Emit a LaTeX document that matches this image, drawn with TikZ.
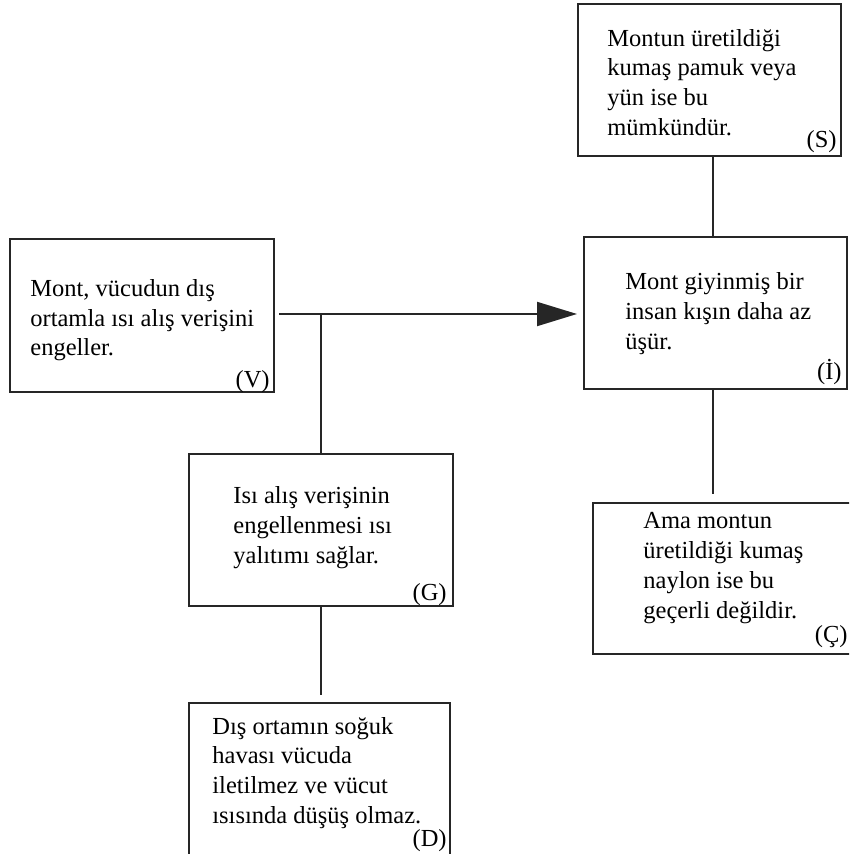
\documentclass[tikz,border=0pt]{standalone}
\usepackage{fontspec}
\setmainfont{Liberation Serif}
\usetikzlibrary{arrows.meta}

\tikzset{
  box/.style={draw=black!85, line width=1pt, inner sep=0pt, minimum width=131.5pt, minimum height=76pt},
  % multi-line texts are placed by the baseline of their last line
  txt/.style={inner sep=0pt, align=left, anchor=base west, font=\fontsize{12.25pt}{14.9pt}\selectfont},
  tag/.style={inner sep=0pt, anchor=base east, font=\fontsize{12.25pt}{14.9pt}\selectfont},
  link/.style={draw=black!85, line width=1pt},
  arr/.style={link, -{Triangle[length=20pt,width=12pt]}}
}

\begin{document}
\begin{tikzpicture}[x=0.5pt, y=-0.5pt]
  \useasboundingbox (0,0) rectangle (849,854);
  \clip (0,0) rectangle (849,854);

  % boxes
  \node[box] (S) at (709.5,80) {};
  \node[box, minimum width=132pt, minimum height=76.5pt] (V) at (142,315.5) {};
  \node[box] (I) at (715.5,313) {};
  \node[box, minimum width=132pt] (G) at (321,530) {};
  \node[box, minimum height=75.5pt] (C) at (724.5,578.5) {};
  \node[box, minimum width=130.5pt, minimum height=77pt] (D) at (319.5,780) {};

  % box texts
  \node[txt] (St) at (607,135.5) {Montun üretildiği\\kumaş pamuk veya\\yün ise bu\\mümkündür.};
  \node[tag] (Sl) at (837,148) {(S)};

  \node[txt] (Vt) at (30,356) {Mont, vücudun dış\\ortamla ısı alış verişini\\engeller.};
  \node[tag] (Vl) at (270,387) {(V)};

  \node[txt] (It) at (625,349.5) {Mont giyinmiş bir\\insan kışın daha az\\üşür.};
  \node[tag] (Il) at (842,380) {(İ)};

  \node[txt] (Gt) at (233,563) {Isı alış verişinin\\engellenmesi ısı\\yalıtımı sağlar.};
  \node[tag] (Gl) at (447,600) {(G)};

  \node[txt] (Ct) at (643,618) {Ama montun\\üretildiği kumaş\\naylon ise bu\\geçerli değildir.};
  \node[tag] (Cl) at (848,642) {(Ç)};

  \node[txt] (Dt) at (212,823.5) {Dış ortamın soğuk\\havası vücuda\\iletilmez ve vücut\\ısısında düşüş olmaz.};
  \node[tag] (Dl) at (447,846) {(D)};

  % connectors
  \coordinate (j) at (321,314);
  \coordinate (sx) at (712.5,0);
  \draw[arr, shorten <=2pt, shorten >=3pt] (V.east |- j) -- (I.west |- j);
  \draw[link] (j) -- (G.north);
  \draw[link, shorten >=3.5pt] (G.south) -- (G.south |- D.north);
  \draw[link] (sx |- S.south) -- (sx |- I.north);
  \draw[link, shorten >=4pt] (sx |- I.south) -- (sx |- C.north);
\end{tikzpicture}
\end{document}
